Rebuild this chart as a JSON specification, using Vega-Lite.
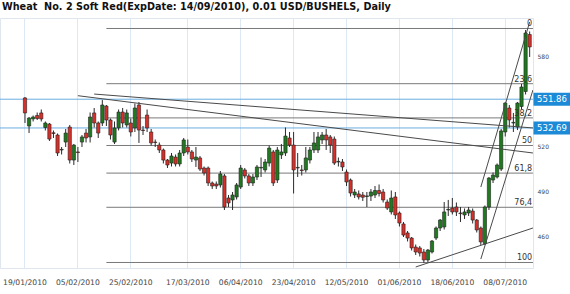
{
  "$schema": "https://vega.github.io/schema/vega-lite/v6.json",
  "width": 533,
  "height": 250,
  "autosize": "none",
  "padding": {"left": 0, "top": 18, "right": 37, "bottom": 26},
  "background": "white",
  "title": {"text": "Wheat\u00a0 No. 2 Soft Red(ExpDate: 14/09/2010), 0.01 USD/BUSHELS, Daily", "anchor": "start", "frame": "group", "font": "DejaVu Sans", "fontSize": 9.7, "fontWeight": "bold", "color": "#111111", "offset": 6, "dx": 2},
  "config": {"view": {"stroke": "#dfe6ee"}, "font": "DejaVu Sans"},
  "datasets": {
    "candles": [
      {"d":"2010-01-19","o":552.7,"h":553.3,"l":536,"c":542.7},
      {"d":"2010-01-20","o":534,"h":540,"l":529.3,"c":539.3},
      {"d":"2010-01-21","o":538.7,"h":541,"l":537,"c":540},
      {"d":"2010-01-22","o":541,"h":543,"l":538,"c":539},
      {"d":"2010-01-25","o":542.7,"h":545,"l":537,"c":538.7},
      {"d":"2010-01-26","o":533,"h":537,"l":531,"c":536},
      {"d":"2010-01-27","o":535.3,"h":536,"l":524,"c":525.3},
      {"d":"2010-01-28","o":529.5,"h":531,"l":526,"c":529},
      {"d":"2010-01-29","o":528,"h":529,"l":514,"c":516},
      {"d":"2010-02-01","o":518,"h":520,"l":515,"c":518.4},
      {"d":"2010-02-02","o":523.3,"h":532,"l":520,"c":529.3},
      {"d":"2010-02-03","o":533.3,"h":534.7,"l":509,"c":511.3},
      {"d":"2010-02-04","o":511.3,"h":522,"l":508,"c":521.3},
      {"d":"2010-02-05","o":516.7,"h":520,"l":510,"c":516.3},
      {"d":"2010-02-08","o":523.3,"h":528,"l":520,"c":526.7},
      {"d":"2010-02-09","o":529.3,"h":532,"l":523,"c":526},
      {"d":"2010-02-10","o":526.7,"h":543,"l":523,"c":540},
      {"d":"2010-02-11","o":542.7,"h":546,"l":533,"c":536},
      {"d":"2010-02-12","o":536,"h":537,"l":526,"c":529.3},
      {"d":"2010-02-16","o":536,"h":551.3,"l":534,"c":548},
      {"d":"2010-02-17","o":547.3,"h":548,"l":534,"c":538},
      {"d":"2010-02-18","o":538,"h":539,"l":525,"c":528},
      {"d":"2010-02-19","o":523.3,"h":537,"l":522,"c":532.7},
      {"d":"2010-02-22","o":532.7,"h":545,"l":531,"c":543.3},
      {"d":"2010-02-23","o":543.3,"h":546,"l":533,"c":536},
      {"d":"2010-02-24","o":534.7,"h":545,"l":533,"c":542.7},
      {"d":"2010-02-25","o":536,"h":539,"l":527,"c":530},
      {"d":"2010-02-26","o":532.7,"h":549,"l":530,"c":546},
      {"d":"2010-03-01","o":548,"h":550,"l":522.7,"c":531.3},
      {"d":"2010-03-02","o":531.3,"h":534,"l":528,"c":531},
      {"d":"2010-03-03","o":541.3,"h":545,"l":530,"c":532.7},
      {"d":"2010-03-04","o":530,"h":532,"l":521,"c":522.7},
      {"d":"2010-03-05","o":523.3,"h":525,"l":520,"c":523},
      {"d":"2010-03-08","o":521.3,"h":523,"l":516,"c":518},
      {"d":"2010-03-09","o":518,"h":519,"l":509,"c":511.3},
      {"d":"2010-03-10","o":511.3,"h":512,"l":506,"c":508},
      {"d":"2010-03-11","o":509.3,"h":516,"l":507,"c":514},
      {"d":"2010-03-12","o":513.3,"h":515,"l":507,"c":508.7},
      {"d":"2010-03-15","o":508.7,"h":518,"l":507,"c":516},
      {"d":"2010-03-16","o":516,"h":526,"l":514,"c":524.7},
      {"d":"2010-03-17","o":520,"h":525,"l":515,"c":516.7},
      {"d":"2010-03-18","o":516.7,"h":518,"l":510,"c":512},
      {"d":"2010-03-19","o":511.3,"h":520,"l":506.7,"c":513.3},
      {"d":"2010-03-22","o":512.7,"h":514,"l":504,"c":505.3},
      {"d":"2010-03-23","o":506,"h":507,"l":501,"c":502.7},
      {"d":"2010-03-24","o":506,"h":507,"l":494,"c":496},
      {"d":"2010-03-25","o":496,"h":497,"l":492,"c":494},
      {"d":"2010-03-26","o":495.3,"h":497,"l":492,"c":494},
      {"d":"2010-03-29","o":494.7,"h":504,"l":493,"c":502},
      {"d":"2010-03-30","o":500.7,"h":502,"l":478,"c":480},
      {"d":"2010-03-31","o":486,"h":488,"l":480,"c":482.7},
      {"d":"2010-04-01","o":484.7,"h":490,"l":478,"c":488},
      {"d":"2010-04-05","o":486.7,"h":496,"l":485,"c":494.7},
      {"d":"2010-04-06","o":493.3,"h":508,"l":492,"c":506},
      {"d":"2010-04-07","o":504.7,"h":506,"l":499,"c":500.7},
      {"d":"2010-04-08","o":500.7,"h":502,"l":494,"c":496},
      {"d":"2010-04-09","o":496,"h":502,"l":494,"c":500},
      {"d":"2010-04-12","o":500,"h":508,"l":498,"c":506.7},
      {"d":"2010-04-13","o":506,"h":513,"l":500,"c":506.4},
      {"d":"2010-04-14","o":504.7,"h":512,"l":503,"c":510},
      {"d":"2010-04-15","o":509.3,"h":521,"l":507,"c":519.3},
      {"d":"2010-04-16","o":516.7,"h":518,"l":494,"c":496},
      {"d":"2010-04-19","o":498,"h":520,"l":496,"c":518},
      {"d":"2010-04-20","o":514.7,"h":522,"l":512,"c":516.7},
      {"d":"2010-04-21","o":516,"h":533,"l":514,"c":527.3},
      {"d":"2010-04-22","o":526,"h":530,"l":520,"c":521.3},
      {"d":"2010-04-23","o":521.3,"h":530,"l":489,"c":504.7},
      {"d":"2010-04-26","o":506,"h":516,"l":500,"c":506.4},
      {"d":"2010-04-27","o":504.7,"h":508,"l":501,"c":504.3},
      {"d":"2010-04-28","o":504.7,"h":520,"l":503,"c":512.7},
      {"d":"2010-04-29","o":511.3,"h":520,"l":509,"c":518},
      {"d":"2010-04-30","o":518,"h":530,"l":516,"c":522.7},
      {"d":"2010-05-03","o":518,"h":530,"l":516,"c":526.7},
      {"d":"2010-05-04","o":524.7,"h":530,"l":522,"c":528},
      {"d":"2010-05-05","o":528,"h":532,"l":518,"c":524.7},
      {"d":"2010-05-06","o":526.7,"h":528,"l":516,"c":521.3},
      {"d":"2010-05-07","o":525.3,"h":527,"l":508,"c":509.3},
      {"d":"2010-05-10","o":510,"h":513,"l":507,"c":510.4},
      {"d":"2010-05-11","o":510,"h":512,"l":504,"c":506.7},
      {"d":"2010-05-12","o":503.3,"h":505,"l":494,"c":496.7},
      {"d":"2010-05-13","o":498,"h":499,"l":487,"c":489.3},
      {"d":"2010-05-14","o":488,"h":492,"l":486,"c":490},
      {"d":"2010-05-17","o":488.7,"h":491,"l":485,"c":486.7},
      {"d":"2010-05-18","o":488,"h":490,"l":484,"c":486.5},
      {"d":"2010-05-19","o":487,"h":490,"l":480,"c":487.4},
      {"d":"2010-05-20","o":487.3,"h":492,"l":484,"c":490},
      {"d":"2010-05-21","o":488,"h":494,"l":486,"c":491},
      {"d":"2010-05-24","o":491,"h":495,"l":487,"c":489},
      {"d":"2010-05-25","o":490,"h":492,"l":483,"c":484.7},
      {"d":"2010-05-26","o":483.3,"h":485,"l":478,"c":479.3},
      {"d":"2010-05-27","o":476.7,"h":491,"l":475,"c":486},
      {"d":"2010-05-28","o":486.7,"h":490,"l":472,"c":474.7},
      {"d":"2010-06-01","o":476,"h":477,"l":467,"c":469.3},
      {"d":"2010-06-02","o":468.7,"h":470,"l":460,"c":461.3},
      {"d":"2010-06-03","o":462.7,"h":464,"l":457,"c":459.3},
      {"d":"2010-06-04","o":459.3,"h":460,"l":451,"c":452.7},
      {"d":"2010-06-07","o":453.3,"h":455,"l":448,"c":450},
      {"d":"2010-06-08","o":452.7,"h":454,"l":447,"c":449.3},
      {"d":"2010-06-09","o":450,"h":452,"l":442.7,"c":444.7},
      {"d":"2010-06-10","o":444.7,"h":452,"l":443,"c":451.3},
      {"d":"2010-06-11","o":450,"h":458,"l":449,"c":457.3},
      {"d":"2010-06-14","o":459.3,"h":467,"l":458,"c":466},
      {"d":"2010-06-15","o":466,"h":472,"l":464,"c":471.3},
      {"d":"2010-06-16","o":466.7,"h":483.3,"l":465,"c":476.7},
      {"d":"2010-06-17","o":478,"h":484.7,"l":474,"c":478.4},
      {"d":"2010-06-18","o":479.3,"h":486,"l":475,"c":476.7},
      {"d":"2010-06-21","o":480,"h":483,"l":474,"c":476.7},
      {"d":"2010-06-22","o":476,"h":480,"l":470,"c":475.6},
      {"d":"2010-06-23","o":474.7,"h":479,"l":472,"c":476.7},
      {"d":"2010-06-24","o":476,"h":480,"l":474,"c":478},
      {"d":"2010-06-25","o":477.3,"h":479,"l":469,"c":471.3},
      {"d":"2010-06-28","o":471.3,"h":472,"l":463,"c":464.7},
      {"d":"2010-06-29","o":466,"h":467,"l":454.7,"c":456.7},
      {"d":"2010-06-30","o":455.5,"h":481,"l":454.7,"c":480},
      {"d":"2010-07-01","o":480,"h":500,"l":478,"c":499.3},
      {"d":"2010-07-02","o":498,"h":503,"l":496,"c":501.3},
      {"d":"2010-07-06","o":500,"h":509,"l":499,"c":508},
      {"d":"2010-07-07","o":505.3,"h":532,"l":504,"c":530.7},
      {"d":"2010-07-08","o":530,"h":550,"l":527,"c":549.3},
      {"d":"2010-07-09","o":546,"h":548,"l":533,"c":538},
      {"d":"2010-07-12","o":536,"h":542.7,"l":530,"c":536.4},
      {"d":"2010-07-13","o":533.3,"h":550,"l":531.3,"c":549.3},
      {"d":"2010-07-14","o":547,"h":562,"l":545,"c":560},
      {"d":"2010-07-15","o":557,"h":598,"l":555,"c":596},
      {"d":"2010-07-16","o":595,"h":597,"l":580,"c":586.7}
    ],
    "fib": [
      {"p":599,"t":"0"},
      {"p":562.2,"t":"23,6"},
      {"p":539.4,"t":"38,2"},
      {"p":521,"t":"50"},
      {"p":502.6,"t":"61,8"},
      {"p":479.8,"t":"76,4"},
      {"p":443,"t":"100"}
    ],
    "lev": [
      {"v":551.86,"t":"551.86"},
      {"v":532.69,"t":"532.69"}
    ],
    "tl": [
      {"d1":"2010-02-11","p1":555.3,"d2":"2010-07-16","p2":532.7},
      {"d1":"2010-02-05","p1":554.2,"d2":"2010-07-16","p2":516},
      {"d1":"2010-06-07","p1":440,"d2":"2010-07-16","p2":466},
      {"d1":"2010-06-29","p1":445.3,"d2":"2010-07-16","p2":558}
    ],
    "steep": [
      {"d1":"2010-06-29","p1":493.3,"d2":"2010-07-16","p2":603.3}
    ]
  },
  "layer": [
    {
      "data": {"name": "fib"},
      "mark": {"type": "rule", "color": "#7a7a7a", "strokeWidth": 1, "x2Offset": 3.3},
      "encoding": {
        "x": {"datum": "2010-02-17", "type": "ordinal", "title": null,
          "scale": {"type": "band", "paddingInner": 0, "paddingOuter": 0.48, "align": 0.667,
            "domain": ["2010-01-11","2010-01-12","2010-01-13","2010-01-14","2010-01-15",
              "2010-01-19","2010-01-20","2010-01-21","2010-01-22","2010-01-25","2010-01-26","2010-01-27","2010-01-28","2010-01-29",
              "2010-02-01","2010-02-02","2010-02-03","2010-02-04","2010-02-05","2010-02-08","2010-02-09","2010-02-10","2010-02-11","2010-02-12",
              "2010-02-16","2010-02-17","2010-02-18","2010-02-19","2010-02-22","2010-02-23","2010-02-24","2010-02-25","2010-02-26",
              "2010-03-01","2010-03-02","2010-03-03","2010-03-04","2010-03-05","2010-03-08","2010-03-09","2010-03-10","2010-03-11","2010-03-12",
              "2010-03-15","2010-03-16","2010-03-17","2010-03-18","2010-03-19","2010-03-22","2010-03-23","2010-03-24","2010-03-25","2010-03-26",
              "2010-03-29","2010-03-30","2010-03-31","2010-04-01","2010-04-05","2010-04-06","2010-04-07","2010-04-08","2010-04-09",
              "2010-04-12","2010-04-13","2010-04-14","2010-04-15","2010-04-16","2010-04-19","2010-04-20","2010-04-21","2010-04-22","2010-04-23",
              "2010-04-26","2010-04-27","2010-04-28","2010-04-29","2010-04-30","2010-05-03","2010-05-04","2010-05-05","2010-05-06","2010-05-07",
              "2010-05-10","2010-05-11","2010-05-12","2010-05-13","2010-05-14","2010-05-17","2010-05-18","2010-05-19","2010-05-20","2010-05-21",
              "2010-05-24","2010-05-25","2010-05-26","2010-05-27","2010-05-28","2010-06-01","2010-06-02","2010-06-03","2010-06-04",
              "2010-06-07","2010-06-08","2010-06-09","2010-06-10","2010-06-11","2010-06-14","2010-06-15","2010-06-16","2010-06-17","2010-06-18",
              "2010-06-21","2010-06-22","2010-06-23","2010-06-24","2010-06-25","2010-06-28","2010-06-29","2010-06-30",
              "2010-07-01","2010-07-02","2010-07-06","2010-07-07","2010-07-08","2010-07-09","2010-07-12","2010-07-13","2010-07-14","2010-07-15","2010-07-16"]},
          "axis": {"title": null, "values": ["2010-01-19","2010-02-05","2010-02-25","2010-03-17","2010-04-06","2010-04-23","2010-05-12","2010-06-01","2010-06-18","2010-07-08"],
            "labelExpr": "utcFormat(toDate(datum.value), '%d/%m/%Y')", "labelAngle": 0, "labelFontSize": 7.6, "labelColor": "#444444", "labelPadding": 10, "ticks": false, "domain": false, "grid": true, "gridColor": "#dce8f4", "gridWidth": 1, "bandPosition": 0.5, "labelOverlap": false, "labelBound": false}},
        "x2": {"datum": "2010-07-16"},
        "y": {"field": "p", "type": "quantitative", "title": null,
          "scale": {"domain": [439.33, 606], "nice": false, "zero": false},
          "axis": {"title": null, "orient": "right", "values": [460, 490, 520, 580], "labelFontSize": 6, "labelColor": "#444444", "labelPadding": 4, "ticks": false, "domain": false, "grid": false}}
      }
    },
    {
      "data": {"name": "lev"},
      "mark": {"type": "rule", "color": "#6aaee2", "strokeWidth": 1},
      "encoding": {"y": {"field": "v", "type": "quantitative", "title": null}}
    },
    {
      "data": {"name": "candles"},
      "mark": {"type": "rule", "color": "#2a2a2a", "strokeWidth": 1},
      "encoding": {
        "x": {"field": "d", "type": "ordinal", "title": null},
        "y": {"field": "l", "type": "quantitative", "title": null},
        "y2": {"field": "h"}
      }
    },
    {
      "data": {"name": "candles"},
      "mark": {"type": "bar", "width": {"band": 0.8}, "stroke": "#222222", "strokeWidth": 0.6},
      "encoding": {
        "x": {"field": "d", "type": "ordinal", "title": null},
        "y": {"field": "o", "type": "quantitative", "title": null},
        "y2": {"field": "c"},
        "color": {"condition": {"test": "datum.c >= datum.o", "value": "#1f7a1f"}, "value": "#d7302a"}
      }
    },
    {
      "data": {"name": "tl"},
      "mark": {"type": "rule", "color": "#4a4a4a", "strokeWidth": 1, "x2Offset": 3.3, "clip": true},
      "encoding": {
        "x": {"field": "d1", "type": "ordinal", "title": null},
        "x2": {"field": "d2"},
        "y": {"field": "p1", "type": "quantitative", "title": null},
        "y2": {"field": "p2"}
      }
    },
    {
      "data": {"name": "steep"},
      "mark": {"type": "rule", "color": "#4a4a4a", "strokeWidth": 1, "clip": true},
      "encoding": {
        "x": {"field": "d1", "type": "ordinal", "title": null},
        "x2": {"field": "d2"},
        "y": {"field": "p1", "type": "quantitative", "title": null},
        "y2": {"field": "p2"}
      }
    },
    {
      "data": {"name": "fib"},
      "mark": {"type": "text", "align": "right", "baseline": "alphabetic", "dx": 2.5, "dy": -2, "fontSize": 8, "color": "#333333"},
      "encoding": {
        "x": {"datum": "2010-07-16", "type": "ordinal"},
        "y": {"field": "p", "type": "quantitative", "title": null},
        "text": {"field": "t"}
      }
    },
    {
      "data": {"name": "lev"},
      "mark": {"type": "point", "shape": "M-1,-0.35H1V0.35H-1Z", "size": 1369, "filled": true, "color": "#1c8ad6", "opacity": 1, "xOffset": 22.3, "clip": false},
      "encoding": {
        "x": {"datum": "2010-07-16", "type": "ordinal"},
        "y": {"field": "v", "type": "quantitative", "title": null}
      }
    },
    {
      "data": {"name": "lev"},
      "mark": {"type": "text", "align": "center", "baseline": "middle", "fontSize": 8.5, "color": "white", "xOffset": 22.3},
      "encoding": {
        "x": {"datum": "2010-07-16", "type": "ordinal"},
        "y": {"field": "v", "type": "quantitative", "title": null},
        "text": {"field": "t"}
      }
    }
  ]
}
